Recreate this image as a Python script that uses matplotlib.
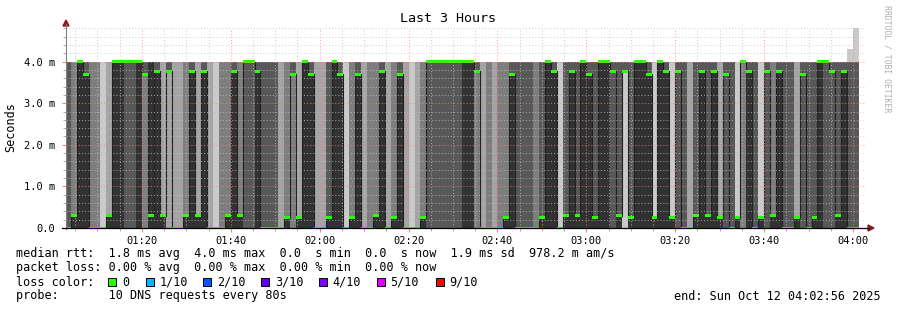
import numpy as np
import matplotlib
matplotlib.use('Agg')
import matplotlib.pyplot as plt
from matplotlib.lines import Line2D
from matplotlib.patches import Rectangle, Polygon
from matplotlib.ticker import FixedLocator, MultipleLocator

W, H = 897, 310

# one column per 80 s step (oldest first), 10 DNS requests each
# fast_n = how many of the 10 answers came back fast (~0 ms), rest ~4 ms
fast_n = [6, 7, 5, 5, 7, 7, 9, 8, 5, 5,
          4, 4, 5, 3, 5, 5, 8, 2, 8, 8,
          7, 5, 8, 5, 8, 9, 7, 7, 5, 7,
          4, 4, 5, 6, 6, 6, 8, 7, 3, 8,
          5, 5, 8, 8, 6, 5, 5, 9, 7, 5,
          8, 7, 7, 5, 8, 7, 5, 8, 9, 8,
          7, 4, 4, 4, 4, 4, 4, 5, 5, 3,
          8, 7, 8, 7, 7, 5, 6, 6, 6, 7,
          6, 5, 5, 9, 6, 5, 6, 5, 5, 6,
          5, 5, 4, 6, 1, 6, 5, 5, 5, 9,
          5, 5, 9, 4, 6, 8, 6, 5, 6, 5,
          8, 4, 6, 9, 3, 5, 6, 9, 4, 7,
          5, 6, 6, 8, 4, 6, 6, 5, 4, 4,
          6, 5, 6, 6]

# median rtt per step, ms
median_ms = [0.0, 0.3, 4.0, 3.7, 0.0, 0.0, 0.0, 0.3, 4.0, 4.0,
             4.0, 4.0, 4.0, 3.7, 0.3, 3.77, 0.3, 3.77, 0.0, 0.0,
             0.3, 3.77, 0.3, 3.77, 0.0, 0.0, 0.0, 0.3, 3.77, 0.3,
             4.0, 4.0, 3.77, 0.0, 0.0, 0.0, 0.0, 0.25, 3.7, 0.25,
             4.0, 3.7, 0.0, 0.0, 0.25, 4.0, 3.7, 0.0, 0.25, 3.7,
             0.0, 0.0, 0.3, 3.77, 0.0, 0.25, 3.7, 0.0, 0.0, 0.0,
             0.25, 4.0, 4.0, 4.0, 4.0, 4.0, 4.0, 4.0, 4.0, 3.77,
             0.0, 0.0, 0.0, 0.0, 0.25, 3.7, 0.0, 0.0, 0.0, 0.0,
             0.25, 4.0, 3.77, 0.0, 0.3, 3.77, 0.3, 4.0, 3.7, 0.25,
             4.0, 4.0, 3.77, 0.3, 3.77, 0.25, 4.0, 4.0, 3.7, 0.25,
             4.0, 3.77, 0.25, 3.77, 0.0, 0.0, 0.3, 3.77, 0.3, 3.77,
             0.25, 3.7, 0.0, 0.25, 4.0, 3.77, 0.0, 0.25, 3.77, 0.3,
             3.77, 0.0, 0.0, 0.25, 3.7, 0.0, 0.25, 4.0, 4.0, 3.77,
             0.3, 3.77, 0.0, 0.0]

# the two last steps had one slow outlier
spike_cols = [132, 133]
spike_ms = [4.31, 4.81]

x_labels = ['01:20', '01:40', '02:00', '02:20', '02:40', '03:00', '03:20', '03:40', '04:00']
y_labels = ['0.0', '1.0 m', '2.0 m', '3.0 m', '4.0 m']
loss_labels = ['0', '1/10', '2/10', '3/10', '4/10', '5/10', '9/10']
loss_colors = ['#26ff00', '#00b8ff', '#0059ff', '#5e00ff', '#7e00ff', '#dd00ff', '#ff0000']

MONO = 'DejaVu Sans Mono'


def fx(x):
    return x / W


def fy(y):
    return 1 - y / H


def smoke_pings(k, med):
    # sorted 10 pings for one step
    if med < 2:
        k = max(k, 5)
        return [0.0] * 5 + [med] * (k - 5) + [4.0] * (10 - k)
    k = min(k, 5)
    return [0.0] * k + [med] * (6 - k) + [4.0] * 4


def ext(a):
    a = np.asarray(a, dtype=float)
    return np.append(a, a[-1])


n = len(fast_n)
# step borders in seconds from the graph start (01:02:56)
edges = np.array([0] + [65 + 80 * i for i in range(n)], dtype=float)

P = np.array([smoke_pings(k, m) for k, m in zip(fast_n, median_ms)])
for c, v in zip(spike_cols, spike_ms):
    P[c, 9] = v

fig = plt.figure(figsize=(W / 100, H / 100), dpi=100)
fig.patch.set_facecolor('white')
ppm = 41.6  # pixels per ms
top = 228 - 4.8 * ppm
ax = fig.add_axes([fx(66), fy(228), 800 / W, (228 - top) / H])
ax.set_facecolor('white')

# smoke: outer pairs light, inner pairs dark (smokeping greys)
greys = [202, 164, 126, 88, 50]
for j in range(5):
    g = '#%02x%02x%02x' % (greys[j], greys[j], greys[j])
    ax.fill_between(edges, ext(P[:, j]), ext(P[:, 9 - j]), step='post',
                    color=g, lw=0, zorder=1 + j * 0.1)

med = np.array(median_ms)
ax.step(edges, ext(med), where='post', color='#202020', lw=0.8, zorder=1.8)
ax.fill_between(edges, ext(med - 0.036), ext(med + 0.036), step='post',
                color='#26ff00', lw=0, zorder=1.9)

ax.set_xlim(0, 10800)
ax.set_ylim(0, 4.8)
ax.set_axisbelow(False)

ax.xaxis.set_major_locator(FixedLocator([1024 + 1200 * i for i in range(len(x_labels))]))
ax.xaxis.set_minor_locator(FixedLocator([124 + 300 * i for i in range(36)]))
ax.set_xticklabels(x_labels, fontsize=7.5, family=MONO)
ax.yaxis.set_major_locator(FixedLocator(range(len(y_labels))))
ax.yaxis.set_minor_locator(MultipleLocator(0.2))
ax.set_yticklabels(y_labels, fontsize=7.5, family=MONO)

ax.grid(which='minor', color='#c0c0c0', alpha=0.75, lw=0.75, ls=(0, (1, 2)))
ax.grid(which='major', color='#ff8080', alpha=0.75, lw=0.75, ls=(0, (1, 2)))
ax.tick_params(axis='x', which='major', length=3, color='#ff8080', pad=3)
ax.tick_params(axis='x', which='minor', length=2, color='#a0a0a0')
ax.tick_params(axis='y', which='major', length=3, color='#ff8080', pad=5)
ax.tick_params(axis='y', which='minor', length=2, color='#a0a0a0')
for s in ax.spines.values():
    s.set_visible(False)

# axes with arrows
fig.add_artist(Line2D([fx(66), fx(66)], [fy(229), fy(24)], color='#808080', lw=0.8))
fig.add_artist(Line2D([fx(62), fx(869)], [fy(228), fy(228)], color='black', lw=0.9))
fig.add_artist(Polygon([[fx(63), fy(26)], [fx(69), fy(26)], [fx(66), fy(20)]],
                       closed=True, color='#8b1a1a', transform=fig.transFigure))
fig.add_artist(Polygon([[fx(868), fy(225)], [fx(868), fy(231)], [fx(874), fy(228)]],
                       closed=True, color='#8b1a1a', transform=fig.transFigure))

fig.text(fx(448), fy(19), 'Last 3 Hours', ha='center', va='center', fontsize=9.6, family=MONO)
fig.text(fx(11), fy(127), 'Seconds', ha='center', va='center', rotation=90, fontsize=8.5, family=MONO)
fig.text(fx(887), fy(5), 'RRDTOOL / TOBI OETIKER', ha='center', va='top', rotation=270,
         fontsize=5.9, family=MONO, color='#b0b0b0')

lines = [
    'median rtt:  1.8 ms avg  4.0 ms max  0.0  s min  0.0  s now  1.9 ms sd  978.2 m am/s',
    'packet loss: 0.00 % avg  0.00 % max  0.00 % min  0.00 % now',
    'loss color:',
    'probe:       10 DNS requests every 80s',
]
for i, t in enumerate(lines):
    fig.text(fx(16), fy(254 + 14 * i), t, ha='left', va='center', fontsize=8.5, family=MONO)

sq_x = [108, 145.5, 203, 261, 318.5, 376.5, 435.5]
for x0, lab, col in zip(sq_x, loss_labels, loss_colors):
    fig.add_artist(Rectangle((fx(x0), fy(286)), 8 / W, 8 / H, facecolor=col,
                             edgecolor='black', lw=0.7, transform=fig.transFigure))
    fig.text(fx(x0 + 14), fy(282), lab, ha='left', va='center', fontsize=8.5, family=MONO)

fig.text(fx(881), fy(296), 'end: Sun Oct 12 04:02:56 2025', ha='right', va='center',
         fontsize=8.5, family=MONO)

fig.savefig('out.png', dpi=100)
